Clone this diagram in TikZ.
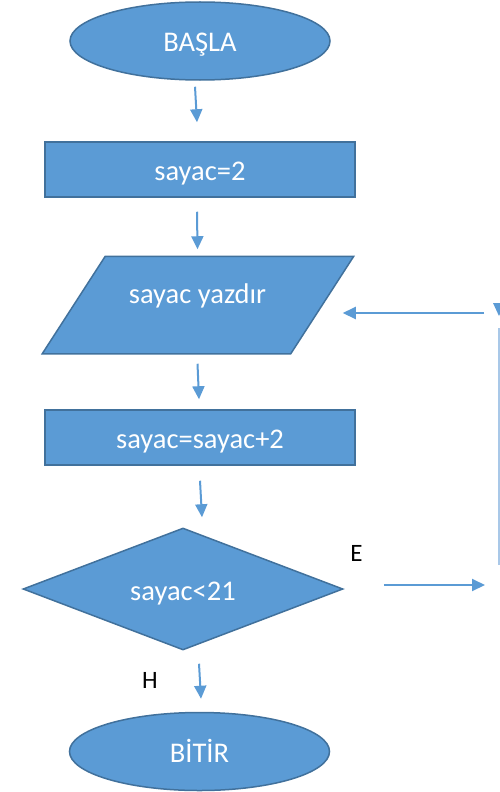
\documentclass[tikz,border=0pt]{standalone}
\usepackage{fontspec}
\setmainfont{Carlito}
\usetikzlibrary{shapes.geometric,arrows.meta,calc,backgrounds}
\definecolor{boxfill}{HTML}{5B9BD5}
\definecolor{boxline}{HTML}{41719C}
\definecolor{flow}{HTML}{5B9BD5}
\definecolor{flowpale}{HTML}{A9C8E8}
\begin{document}
\begin{tikzpicture}[x=1pt,y=-1pt,
  block/.style={draw=boxline, line width=1.5pt, fill=boxfill, text=white,
    font=\fontsize{28.5}{34}\selectfont, inner sep=0pt,
    text height=22pt, text depth=0pt},
  terminal/.style={block, ellipse, minimum width=260pt, minimum height=78pt},
  process/.style={block, rectangle, minimum width=310pt, minimum height=55pt},
  % the slanted outline of the input/output block is drawn behind its text
  io/.style={block, draw=none, fill=none, rectangle,
    minimum width=247pt, minimum height=96pt,
    text height=7pt, text depth=11pt},
  ioshape/.style={draw=boxline, line width=1.5pt, fill=boxfill, line join=miter},
  decision/.style={block, diamond, aspect=2.62,
    minimum width=320pt, minimum height=122pt},
  flowarrow/.style={draw=flow, line width=2pt,
    -{Triangle[length=13pt,width=12pt]}},
  tag/.style={font=\fontsize{25}{30}\selectfont, text=black, inner sep=0pt}
]
\useasboundingbox (0,0) rectangle (500,792);
\clip (0,0) rectangle (500,792);

% flowchart blocks
\node[terminal] (start) at (200,41)    {BAŞLA};
\node[process]  (init)  at (200,169.5) {sayac=2};
\node[io]       (out)   at (197.5,305) {sayac yazdır};
\node[process]  (inc)   at (200,437.5) {sayac=sayac+2};
\node[decision] (test)  at (183,589)   {sayac<21};
\node[terminal] (stop)  at (199.5,751.5) {BİTİR};

\begin{pgfonlayer}{background}
  \draw[ioshape] ([xshift=32pt]out.north west) -- ([xshift=32pt]out.north east)
    -- ([xshift=-31pt]out.south east) -- ([xshift=-31pt]out.south west) -- cycle;
\end{pgfonlayer}

% branch labels
\node[tag] (yes) at (356.5,553) {E};
\node[tag] (no)  at (150,680)   {H};

% loop-back route on the right
\coordinate (yesEnd)   at (485,585);
\coordinate (loopLow)  at (499,565);
\coordinate (loopHigh) at (499,316);
\coordinate (backFrom) at (484,313);

% main flow
\draw[flowarrow] ([xshift=-5pt,yshift=-6pt]start.south) -- ([xshift=-3pt,yshift=19pt]init.north);
\draw[flowarrow] ([xshift=-3pt,yshift=-14pt]init.south) -- ([xshift=0pt,yshift=7pt]out.north);
\draw[flowarrow] ([xshift=0pt,yshift=-10pt]out.south) -- ([xshift=-1pt,yshift=10pt]inc.north);
\draw[flowarrow] ([xshift=0pt,yshift=-15pt]inc.south) -- ([xshift=19pt,yshift=10pt]test.north);
\draw[flowarrow] ([xshift=16pt,yshift=-13pt]test.south) -- ([xshift=1.5pt,yshift=13pt]stop.north);

% loop back when the condition holds
\draw[flowarrow] ([xshift=40pt,yshift=4pt]test.east) -- (yesEnd);
\draw[draw=flowpale, line width=1.3pt] (loopLow) -- ([yshift=-12pt]loopHigh);
\fill[flow] (loopHigh) -- ++(6pt,13pt) -- ++(-12pt,0pt) -- cycle;
\draw[flowarrow] (backFrom) -- ([xshift=21pt,yshift=-8pt]out.east);
\end{tikzpicture}
\end{document}
